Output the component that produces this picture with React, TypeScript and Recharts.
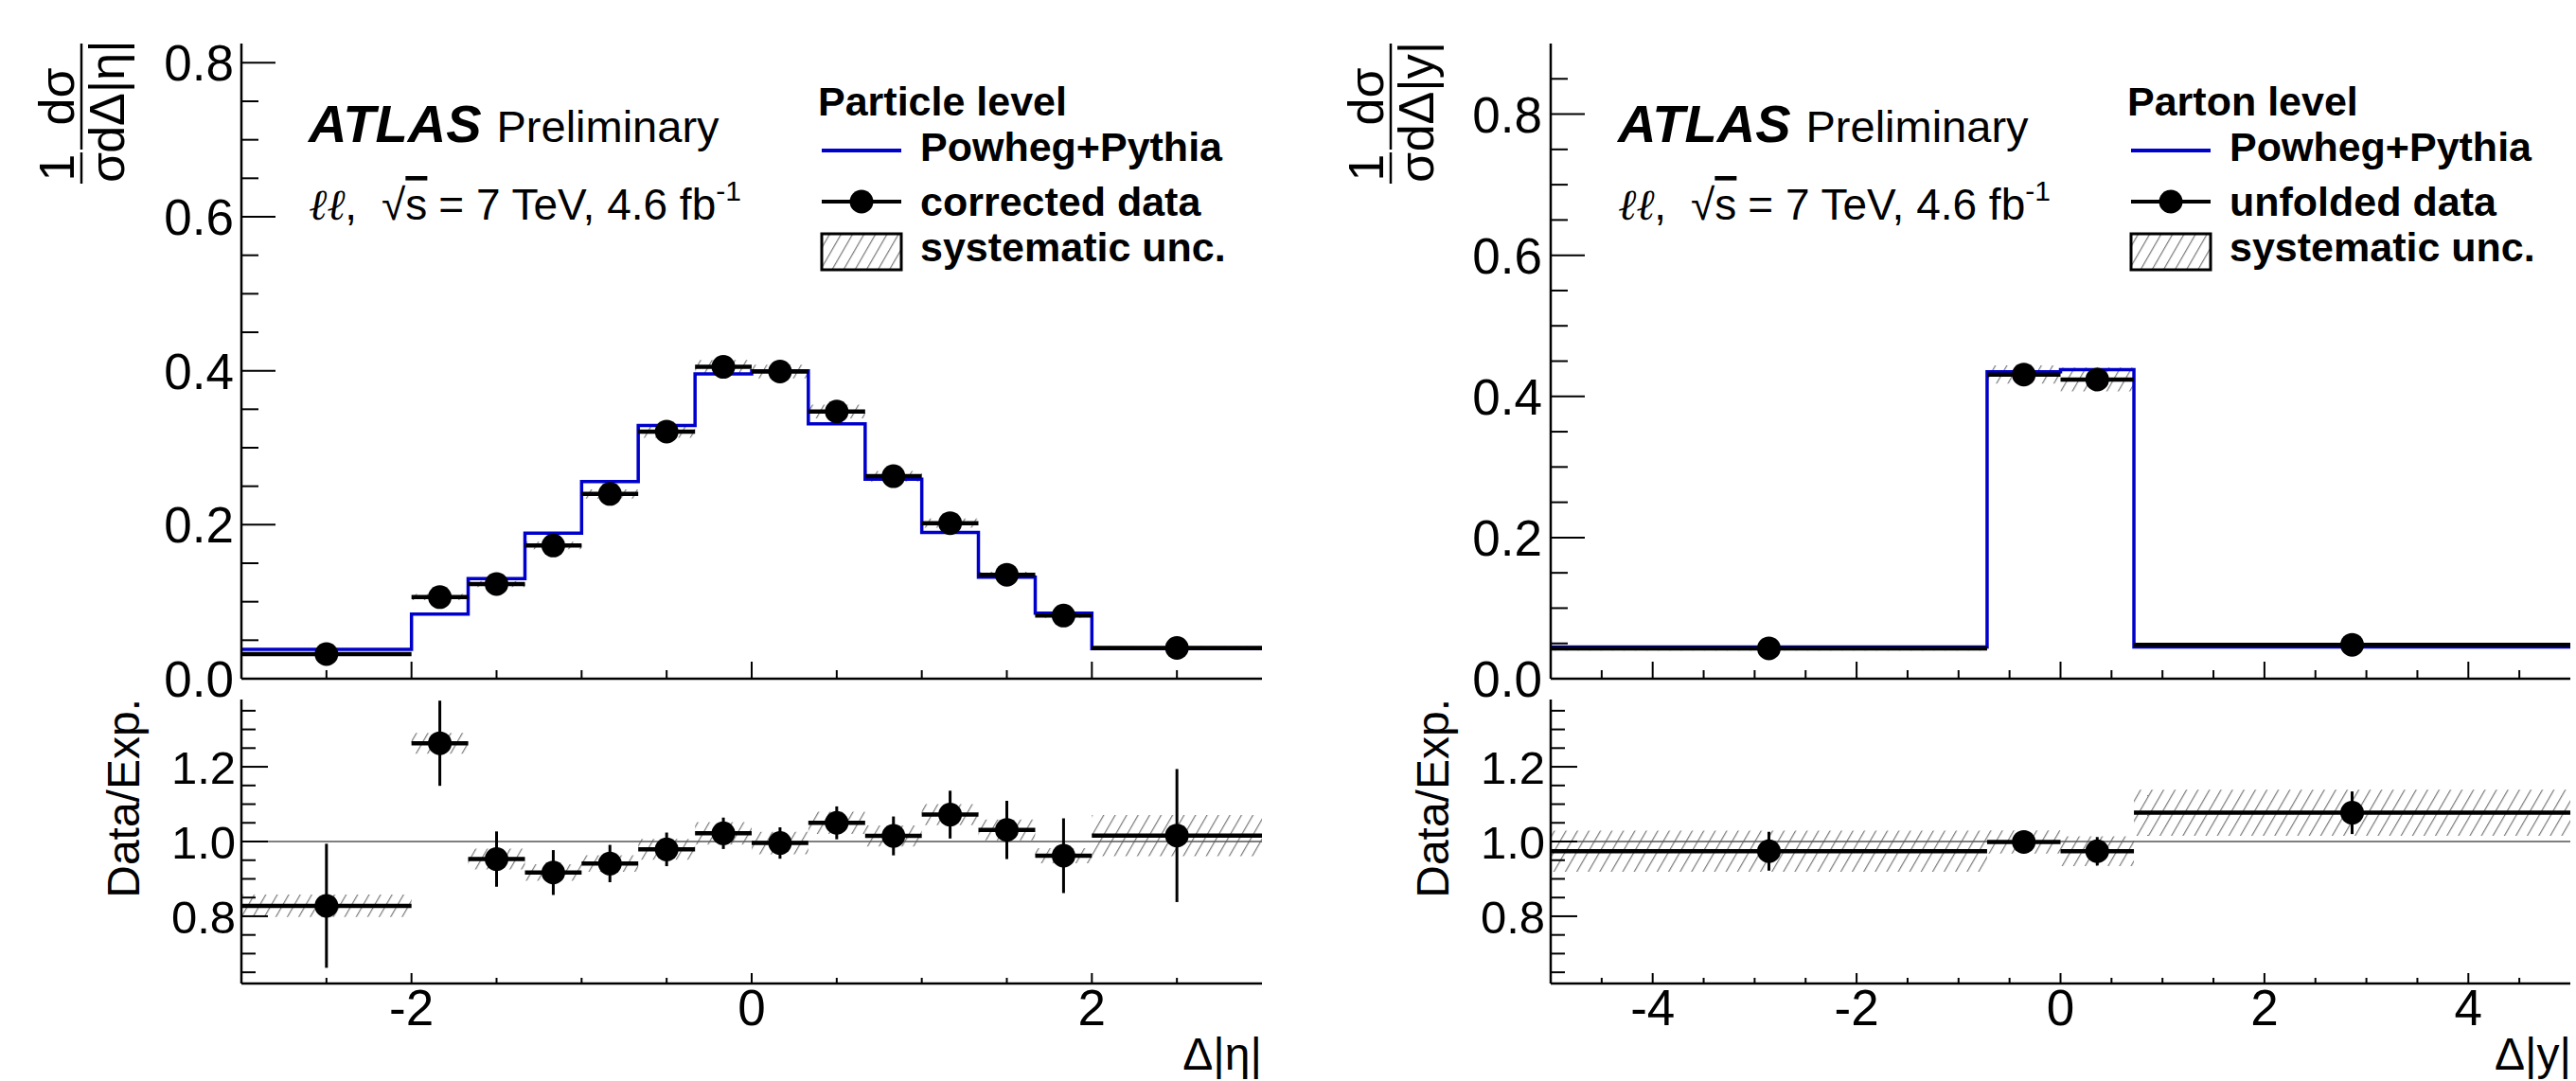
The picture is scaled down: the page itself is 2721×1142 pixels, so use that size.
import React from "react";
import { ComposedChart, Line, Scatter, ErrorBar, XAxis, YAxis, ReferenceArea, ReferenceLine } from "recharts";

// ---- Δ|η|, particle level ----
const etaEdges = [-3, -2, -1.667, -1.333, -1, -0.667, -0.333, 0, 0.333, 0.667, 1, 1.333, 1.667, 2, 3];
const etaPowheg = [0.038, 0.084, 0.130, 0.189, 0.256, 0.329, 0.396, 0.400, 0.331, 0.259, 0.190, 0.132, 0.085, 0.039];
const etaData = [0.032, 0.106, 0.123, 0.173, 0.240, 0.321, 0.405, 0.399, 0.347, 0.263, 0.202, 0.135, 0.082, 0.040];
const etaSyst = [0.002, 0.004, 0.004, 0.005, 0.006, 0.008, 0.009, 0.009, 0.009, 0.007, 0.006, 0.004, 0.003, 0.002];
const etaRatio = [0.828, 1.263, 0.953, 0.917, 0.941, 0.979, 1.022, 0.996, 1.050, 1.015, 1.072, 1.031, 0.962, 1.016];
const etaRatioStat = [0.166, 0.114, 0.074, 0.060, 0.050, 0.045, 0.042, 0.042, 0.044, 0.052, 0.064, 0.078, 0.100, 0.178];
const etaRatioSyst = [0.030, 0.028, 0.028, 0.022, 0.022, 0.028, 0.030, 0.030, 0.030, 0.028, 0.028, 0.028, 0.020, 0.055];

// ---- Δ|y|, parton level ----
const rapEdges = [-5, -0.72, 0, 0.72, 5];
const rapPowheg = [0.045, 0.435, 0.438, 0.045];
const rapData = [0.043, 0.431, 0.424, 0.048];
const rapSyst = [0.003, 0.013, 0.017, 0.003];
const rapRatio = [0.974, 0.999, 0.974, 1.077];
const rapRatioStat = [0.052, 0.026, 0.038, 0.057];
const rapRatioSyst = [0.055, 0.031, 0.040, 0.062];

// ---- ticks ----
const etaTicks = [-2.5, -2, -1.5, -1, -0.5, 0, 0.5, 1, 1.5, 2, 2.5];
const etaLabels = [-2, 0, 2];
const rapTicks = [-4.5, -4, -3.5, -3, -2.5, -2, -1.5, -1, -0.5, 0, 0.5, 1, 1.5, 2, 2.5, 3, 3.5, 4, 4.5];
const rapLabels = [-4, -2, 0, 2, 4];
const xsecTicksEta = [0, 0.05, 0.1, 0.15, 0.2, 0.25, 0.3, 0.35, 0.4, 0.45, 0.5, 0.55, 0.6, 0.65, 0.7, 0.75, 0.8];
const xsecTicksRap = [0, 0.05, 0.1, 0.15, 0.2, 0.25, 0.3, 0.35, 0.4, 0.45, 0.5, 0.55, 0.6, 0.65, 0.7, 0.75, 0.8, 0.85];
const xsecLabels = [0, 0.2, 0.4, 0.6, 0.8];
const ratioTicks = [0.65, 0.7, 0.75, 0.8, 0.85, 0.9, 0.95, 1.0, 1.05, 1.1, 1.15, 1.2, 1.25, 1.3, 1.35];
const ratioLabels = [0.8, 1.0, 1.2];

const FONT = "'Liberation Sans', Arial, Helvetica, sans-serif";
const BLUE = "#0000cc";
const HATCH = "#7a7a7a";
const AXIS = { stroke: "#000", strokeWidth: 2.5 };

const stepPoints = (edges: number[], vals: number[]) =>
  edges.map((x, i) => ({ x, y: vals[Math.min(i, vals.length - 1)] }));

const binPoints = (edges: number[], vals: number[], err?: number[]) =>
  vals.map((y, i) => ({
    x: (edges[i] + edges[i + 1]) / 2,
    y,
    ex: (edges[i + 1] - edges[i]) / 2,
    ey: err ? err[i] : 0,
  }));

type Side = "left" | "right" | "top" | "bottom";

const makeTick = (side: Side, majors: number[], majorLen: number, minorLen: number, label: boolean, fontSize: number, gap: number, digits: number) =>
  (props: any) => {
    const { x, y, payload } = props;
    const v = payload.value;
    const major = majors.some((m) => Math.abs(m - v) < 1e-9);
    const len = major ? majorLen : minorLen;
    let x2 = x, y2 = y;
    if (side === "left") x2 = x + len;
    if (side === "right") x2 = x - len;
    if (side === "bottom") y2 = y - len;
    if (side === "top") y2 = y + len;
    let txt = null;
    if (label && major) {
      const s = v.toFixed(digits);
      if (side === "left") {
        txt = <text x={x - gap} y={y} dy="0.36em" textAnchor="end" fontSize={fontSize} fontFamily={FONT} fill="#000">{s}</text>;
      } else if (side === "bottom") {
        txt = <text x={x} y={y + gap} textAnchor="middle" fontSize={fontSize} fontFamily={FONT} fill="#000">{s}</text>;
      }
    }
    return (
      <g>
        <line x1={x} y1={y} x2={x2} y2={y2} stroke="#000" strokeWidth={2} />
        {txt}
      </g>
    );
  };

const PAD_L = 140;
const PAD_T = 12;
const PAD_R = 12;

type PanelProps = {
  left: number; top: number; w: number; h: number;
  xDomain: [number, number]; yDomain: [number, number];
  xTicks: number[]; xMajors: number[]; yTicks: number[]; yMajors: number[];
  xLen: [number, number]; yLen: [number, number];
  yFont: number; yGap: number; xLabels: boolean;
  children: React.ReactNode;
};

function Panel(p: PanelProps) {
  const bottomH = p.xLabels ? 70 : 40;
  return (
    <div style={{ position: "absolute", left: p.left - PAD_L, top: p.top - PAD_T }}>
      <ComposedChart
        width={PAD_L + p.w + PAD_R}
        height={PAD_T + p.h + bottomH}
        margin={{ top: PAD_T, right: PAD_R, left: 0, bottom: 0 }}
      >
        <XAxis xAxisId={0} dataKey="x" type="number" domain={p.xDomain} allowDataOverflow ticks={p.xTicks} interval={0}
          height={bottomH} tickSize={0} tickMargin={0} tickLine={false} axisLine={AXIS}
          tick={makeTick("bottom", p.xMajors, p.xLen[0], p.xLen[1], p.xLabels, 53, 44, 0)} />
        <XAxis xAxisId="top" orientation="top" type="number" domain={p.xDomain} allowDataOverflow ticks={p.xTicks} interval={0}
          height={0} tickSize={0} tickMargin={0} tickLine={false} axisLine={AXIS}
          tick={makeTick("top", p.xMajors, p.xLen[0], p.xLen[1], false, 0, 0, 0)} />
        <YAxis yAxisId={0} type="number" domain={p.yDomain} allowDataOverflow ticks={p.yTicks} interval={0}
          width={PAD_L} tickSize={0} tickMargin={0} tickLine={false} axisLine={AXIS}
          tick={makeTick("left", p.yMajors, p.yLen[0], p.yLen[1], true, p.yFont, p.yGap, 1)} />
        <YAxis yAxisId="right" orientation="right" type="number" domain={p.yDomain} allowDataOverflow ticks={p.yTicks} interval={0}
          width={0} tickSize={0} tickMargin={0} tickLine={false} axisLine={AXIS}
          tick={makeTick("right", p.yMajors, p.yLen[0], p.yLen[1], false, 0, 0, 1)} />
        {p.children}
      </ComposedChart>
    </div>
  );
}

const Dot = (props: any) => <circle cx={props.cx} cy={props.cy} r={12.5} fill="#000" />;

const bands = (edges: number[], vals: number[], syst: number[], key: string) =>
  vals.map((v, i) => (
    <ReferenceArea key={key + i} x1={edges[i]} x2={edges[i + 1]} y1={v - syst[i]} y2={v + syst[i]}
      fill="url(#hatch)" fillOpacity={1} stroke="none" ifOverflow="hidden" />
  ));

function Annotations({ dx, level, dataName, yVar, xTitle }: { dx: number; level: string; dataName: string; yVar: string; xTitle: string }) {
  return (
    <g fontFamily={FONT} fill="#000">
      {/* y title 1/σ dσ/dΔ|..| */}
      <g transform={`translate(${86 + dx}, 120) rotate(-90)`} fontSize={52}>
        <line x1={-74} y1={0} x2={-41} y2={0} stroke="#000" strokeWidth={2.5} />
        <line x1={-38} y1={0} x2={74} y2={0} stroke="#000" strokeWidth={2.5} />
        <text x={-57} y={-8} textAnchor="middle">1</text>
        <text x={-57} y={45} textAnchor="middle">σ</text>
        <text x={18} y={-8} textAnchor="middle">dσ</text>
        <text x={18} y={45} textAnchor="middle">dΔ|{yVar}|</text>
      </g>
      <text transform={`translate(${147 + dx}, 738) rotate(-90)`} textAnchor="end" fontSize={48}>Data/Exp.</text>
      <text x={1333 + dx} y={1130} textAnchor="end" fontSize={48}>{xTitle}</text>

      <text x={326 + dx} y={150}>
        <tspan fontSize={56} fontWeight="bold" fontStyle="italic">ATLAS</tspan>
        <tspan dx={16} fontSize={47}>Preliminary</tspan>
      </text>
      <text x={326 + dx} y={232} fontSize={46}>
        <tspan fontFamily="'DejaVu Serif', serif" fontStyle="italic">ℓℓ</tspan>
        <tspan>,</tspan>
        <tspan dx={26}>√</tspan>
        <tspan textDecoration="overline">s</tspan>
        <tspan dx={12}>= 7 TeV, 4.6 fb</tspan>
        <tspan dy={-20} fontSize={30}>-1</tspan>
      </text>

      <g fontSize={43} fontWeight="bold">
        <text x={864 + dx} y={122}>{level}</text>
        <line x1={868 + dx} y1={159} x2={952 + dx} y2={159} stroke={BLUE} strokeWidth={4} />
        <text x={972 + dx} y={170}>Powheg+Pythia</text>
        <line x1={868 + dx} y1={213} x2={952 + dx} y2={213} stroke="#000" strokeWidth={4} />
        <circle cx={910 + dx} cy={213} r={12.5} fill="#000" />
        <text x={972 + dx} y={228}>{dataName}</text>
        <rect x={868 + dx} y={247} width={84} height={38} fill="url(#hatch)" stroke="#000" strokeWidth={3} />
        <text x={972 + dx} y={276}>systematic unc.</text>
      </g>
    </g>
  );
}

export default function App() {
  return (
    <div style={{ position: "absolute", left: 0, top: 0, width: 2721, height: 1142, background: "#fff", overflow: "hidden" }}>
      <svg width={0} height={0} style={{ position: "absolute" }}>
        <defs>
          <pattern id="hatch" patternUnits="userSpaceOnUse" width={10.5} height={10.5} patternTransform="rotate(30)">
            <line x1={0} y1={0} x2={0} y2={10.5} stroke={HATCH} strokeWidth={2.4} />
          </pattern>
        </defs>
      </svg>

      {/* Δ|η| cross-section */}
      <Panel left={255} top={46} w={1078} h={671} xDomain={[-3, 3]} yDomain={[0, 0.825]}
        xTicks={etaTicks} xMajors={etaLabels} yTicks={xsecTicksEta} yMajors={xsecLabels}
        xLen={[18, 9]} yLen={[36, 18]} yFont={53} yGap={8} xLabels={false}>
        {bands(etaEdges, etaData, etaSyst, "es")}
        <Line data={stepPoints(etaEdges, etaPowheg)} dataKey="y" type="stepAfter" stroke={BLUE} strokeWidth={3.5}
          dot={false} activeDot={false} isAnimationActive={false} />
        <Scatter data={binPoints(etaEdges, etaData)} dataKey="y" shape={Dot} isAnimationActive={false}>
          <ErrorBar dataKey="ex" direction="x" width={0} stroke="#000" strokeWidth={4.5} isAnimationActive={false} />
        </Scatter>
      </Panel>

      {/* Δ|η| ratio */}
      <Panel left={255} top={739} w={1078} h={300} xDomain={[-3, 3]} yDomain={[0.62, 1.38]}
        xTicks={etaTicks} xMajors={etaLabels} yTicks={ratioTicks} yMajors={ratioLabels}
        xLen={[11, 6]} yLen={[28, 15]} yFont={49} yGap={6} xLabels={true}>
        <ReferenceLine y={1} stroke="#555" strokeWidth={1.5} ifOverflow="hidden" />
        {bands(etaEdges, etaRatio, etaRatioSyst, "er")}
        <Scatter data={binPoints(etaEdges, etaRatio, etaRatioStat)} dataKey="y" shape={Dot} isAnimationActive={false}>
          <ErrorBar dataKey="ex" direction="x" width={0} stroke="#000" strokeWidth={4.5} isAnimationActive={false} />
          <ErrorBar dataKey="ey" direction="y" width={0} stroke="#000" strokeWidth={3} isAnimationActive={false} />
        </Scatter>
      </Panel>

      {/* Δ|y| cross-section */}
      <Panel left={1638} top={46} w={1077} h={671} xDomain={[-5, 5]} yDomain={[0, 0.9]}
        xTicks={rapTicks} xMajors={rapLabels} yTicks={xsecTicksRap} yMajors={xsecLabels}
        xLen={[18, 9]} yLen={[36, 18]} yFont={53} yGap={9} xLabels={false}>
        {bands(rapEdges, rapData, rapSyst, "rs")}
        <Line data={stepPoints(rapEdges, rapPowheg)} dataKey="y" type="stepAfter" stroke={BLUE} strokeWidth={3.5}
          dot={false} activeDot={false} isAnimationActive={false} />
        <Scatter data={binPoints(rapEdges, rapData)} dataKey="y" shape={Dot} isAnimationActive={false}>
          <ErrorBar dataKey="ex" direction="x" width={0} stroke="#000" strokeWidth={4.5} isAnimationActive={false} />
        </Scatter>
      </Panel>

      {/* Δ|y| ratio */}
      <Panel left={1638} top={739} w={1077} h={300} xDomain={[-5, 5]} yDomain={[0.62, 1.38]}
        xTicks={rapTicks} xMajors={rapLabels} yTicks={ratioTicks} yMajors={ratioLabels}
        xLen={[11, 6]} yLen={[28, 15]} yFont={49} yGap={6} xLabels={true}>
        <ReferenceLine y={1} stroke="#555" strokeWidth={1.5} ifOverflow="hidden" />
        {bands(rapEdges, rapRatio, rapRatioSyst, "rr")}
        <Scatter data={binPoints(rapEdges, rapRatio, rapRatioStat)} dataKey="y" shape={Dot} isAnimationActive={false}>
          <ErrorBar dataKey="ex" direction="x" width={0} stroke="#000" strokeWidth={4.5} isAnimationActive={false} />
          <ErrorBar dataKey="ey" direction="y" width={0} stroke="#000" strokeWidth={3} isAnimationActive={false} />
        </Scatter>
      </Panel>

      <svg width={2721} height={1142} style={{ position: "absolute", left: 0, top: 0, pointerEvents: "none" }}>
        <Annotations dx={0} level="Particle level" dataName="corrected data" yVar="η" xTitle="Δ|η|" />
        <Annotations dx={1383} level="Parton level" dataName="unfolded data" yVar="y" xTitle="Δ|y|" />
      </svg>
    </div>
  );
}
